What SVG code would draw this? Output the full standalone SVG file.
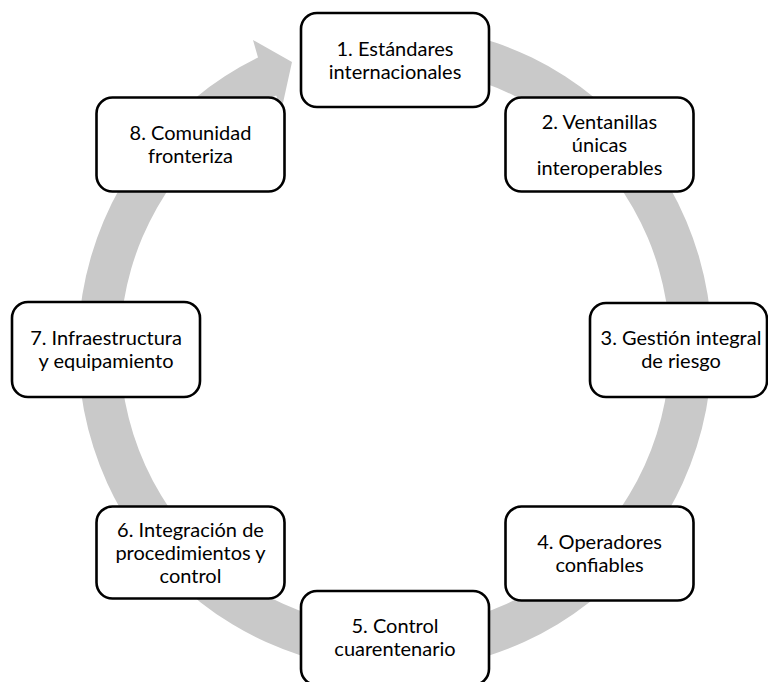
<svg xmlns="http://www.w3.org/2000/svg" width="768" height="682" viewBox="0 0 768 682">
<style>
.node rect{fill:#fff;stroke:#000;stroke-width:2.6}
.node text{font-family:Lato,"Open Sans",sans-serif;font-size:20px;fill:#000;text-anchor:middle}
.ring{fill:#c9c9c9;stroke:none}
</style>
<rect width="768" height="682" fill="#fff"/>
<g id="connectors">
<path class="ring" d="M 422.6 27.2 A 317 322 0 1 1 258 57.6 L 253 40 L 292 62 L 281 112 L 276.2 95.5 A 275 280 0 1 0 419 69.1 Z"/>
</g>
<g id="node1" class="node"><rect x="301" y="13" width="188" height="94" rx="16"/><text x="395" y="56">1. Estándares</text><text x="395" y="79">internacionales</text></g>
<g id="node2" class="node"><rect x="505.5" y="97.5" width="188" height="94" rx="16"/><text x="599.5" y="129">2. Ventanillas</text><text x="599.5" y="152">únicas</text><text x="599.5" y="175">interoperables</text></g>
<g id="node3" class="node"><rect x="590" y="303" width="177" height="94" rx="16"/><text x="681" y="345">3. Gestión integral</text><text x="681" y="368">de riesgo</text></g>
<g id="node4" class="node"><rect x="505.5" y="506.5" width="188" height="94" rx="16"/><text x="599.5" y="549">4. Operadores</text><text x="599.5" y="572">confiables</text></g>
<g id="node5" class="node"><rect x="301" y="591" width="188" height="94" rx="16"/><text x="395" y="633">5. Control</text><text x="395" y="656">cuarentenario</text></g>
<g id="node6" class="node"><rect x="96.5" y="506.5" width="188" height="92" rx="16"/><text x="190.5" y="537">6. Integración de</text><text x="190.5" y="560">procedimientos y</text><text x="190.5" y="583">control</text></g>
<g id="node7" class="node"><rect x="12" y="302" width="188" height="95" rx="16"/><text x="106" y="345">7. Infraestructura</text><text x="106" y="368">y equipamiento</text></g>
<g id="node8" class="node"><rect x="96.5" y="97.5" width="188" height="94" rx="16"/><text x="190.5" y="140">8. Comunidad</text><text x="190.5" y="163">fronteriza</text></g>
</svg>
